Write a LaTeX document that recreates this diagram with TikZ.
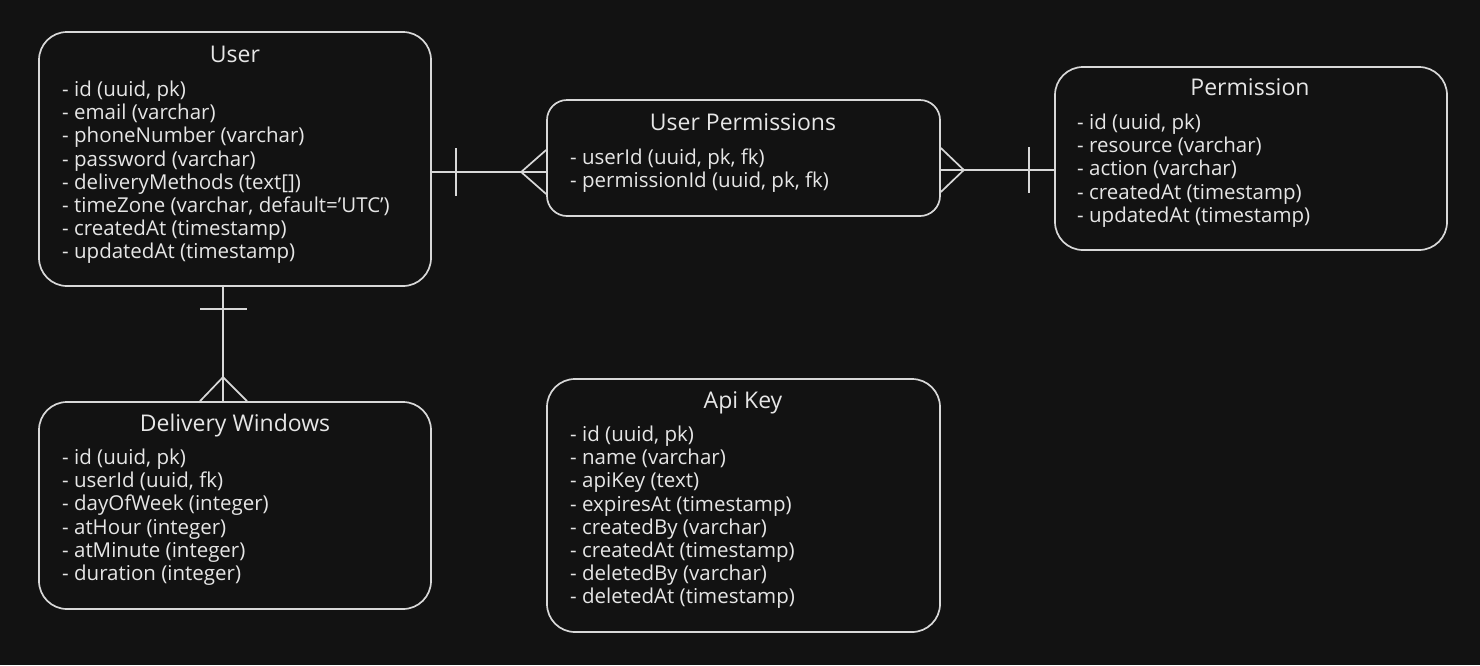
\documentclass[tikz,border=0pt]{standalone}
\usepackage{fontspec}
\setmainfont{Open Sans}
\begin{document}
\begin{tikzpicture}[x=1pt,y=-1pt,
  entity/.style={draw=strokec, line width=1.7pt, fill=bgc, rounded corners=28pt, inner sep=0pt},
  ttl/.style={text=textc, font=\fontsize{23}{23.1}\selectfont, inner sep=0pt, anchor=base},
  rows/.style={text=textc, font=\fontsize{20.5}{23.1}\selectfont, inner sep=0pt, anchor=north west, align=left},
  conn/.style={draw=strokec, line width=1.7pt}]
\definecolor{bgc}{HTML}{121212}
\definecolor{strokec}{HTML}{D8D8D8}
\definecolor{textc}{HTML}{E6E6E6}
\fill[bgc] (0,0) rectangle (1480,665);
\useasboundingbox (0,0) rectangle (1480,665);

% boxes
\node[entity, minimum width=392pt, minimum height=254pt] (user) at (235,159) {};
\node[entity, minimum width=393pt, minimum height=116pt, rounded corners=20pt] (up) at (743.5,158) {};
\node[entity, minimum width=392pt, minimum height=183pt] (perm) at (1251,158.5) {};
\node[entity, minimum width=392pt, minimum height=207pt] (dw) at (235,505.5) {};
\node[entity, minimum width=393pt, minimum height=253pt] (api) at (743.5,505.5) {};

% titles
\node[ttl] (userT) at (235,62) {User};
\node[ttl] (upT) at (743,130) {User Permissions};
\node[ttl] (permT) at (1250,95) {Permission};
\node[ttl] (dwT) at (235,431) {Delivery Windows};
\node[ttl] (apiT) at (743,408) {Api Key};

% rows
\node[rows] (userR) at (62,81) {- id (uuid, pk)\\- email (varchar)\\- phoneNumber (varchar)\\- password (varchar)\\- deliveryMethods (text[])\\- timeZone (varchar, default='UTC')\\- createdAt (timestamp)\\- updatedAt (timestamp)};
\node[rows] (upR) at (570,149) {- userId (uuid, pk, fk)\\- permissionId (uuid, pk, fk)};
\node[rows] (permR) at (1077,114) {- id (uuid, pk)\\- resource (varchar)\\- action (varchar)\\- createdAt (timestamp)\\- updatedAt (timestamp)};
\node[rows] (dwR) at (62,449) {- id (uuid, pk)\\- userId (uuid, fk)\\- dayOfWeek (integer)\\- atHour (integer)\\- atMinute (integer)\\- duration (integer)};
\node[rows] (apiR) at (570,426) {- id (uuid, pk)\\- name (varchar)\\- apiKey (text)\\- expiresAt (timestamp)\\- createdBy (varchar)\\- createdAt (timestamp)\\- deletedBy (varchar)\\- deletedAt (timestamp)};

% connector User -- User Permissions
\coordinate (a1) at ([yshift=-13pt]user.east);
\coordinate (a2) at ([yshift=-14pt]up.west);
\draw[conn] (a1) -- (a2);
\draw[conn] ([xshift=24pt,yshift=24pt]a1) -- ([xshift=24pt,yshift=-24pt]a1);
\draw[conn] ([xshift=-25pt]a2) -- ([yshift=22pt]a2);
\draw[conn] ([xshift=-25pt]a2) -- ([yshift=-22pt]a2);

% connector User Permissions -- Permission
\coordinate (b1) at ([yshift=-12pt]up.east);
\coordinate (b2) at ([yshift=-11.5pt]perm.west);
\draw[conn] (b1) -- (b2);
\draw[conn] ([xshift=23pt]b1) -- ([yshift=22pt]b1);
\draw[conn] ([xshift=23pt]b1) -- ([yshift=-22pt]b1);
\draw[conn] ([xshift=-25pt,yshift=23pt]b2) -- ([xshift=-25pt,yshift=-23pt]b2);

% connector User -- Delivery Windows
\coordinate (c1) at ([xshift=-12pt]user.south);
\coordinate (c2) at ([xshift=-12pt]dw.north);
\draw[conn] (c1) -- (c2);
\draw[conn] ([xshift=-23pt,yshift=-22pt]c1) -- ([xshift=24pt,yshift=-22pt]c1);
\draw[conn] ([yshift=24pt]c2) -- ([xshift=-23pt]c2);
\draw[conn] ([yshift=24pt]c2) -- ([xshift=24pt]c2);
\end{tikzpicture}
\end{document}
